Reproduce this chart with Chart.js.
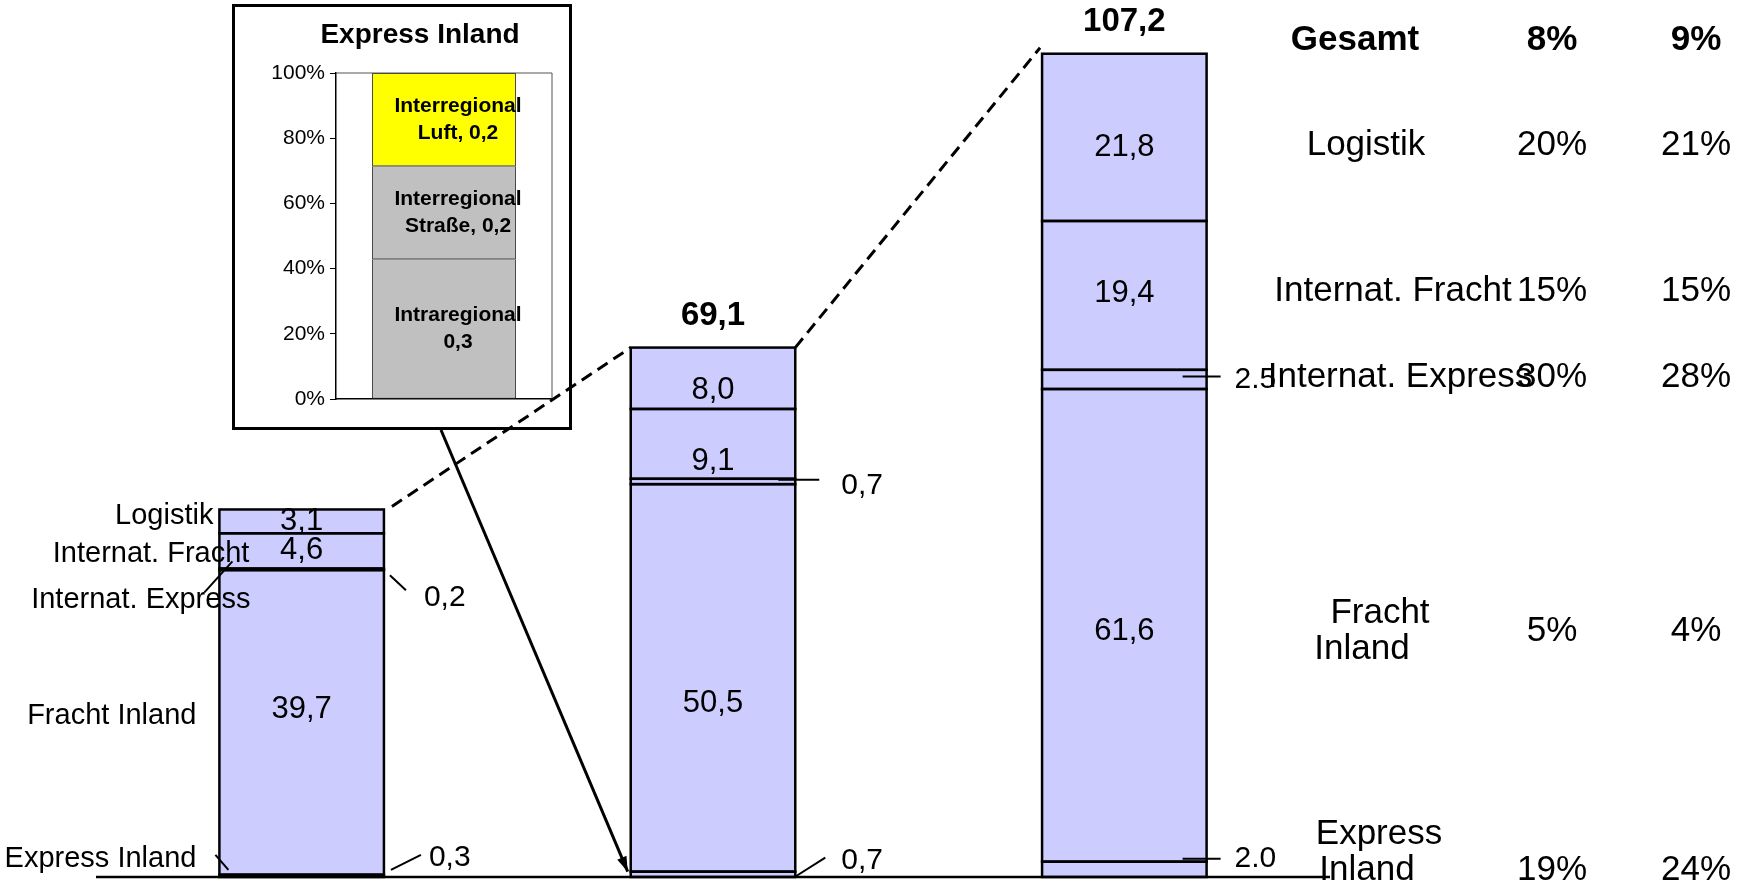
<!DOCTYPE html>
<html>
<head>
<meta charset="utf-8">
<title>Umsatz nach Segmenten</title>
<script src="https://cdn.jsdelivr.net/npm/chart.js@4.4.0/dist/chart.umd.min.js"></script>
<style>
  html, body { margin: 0; padding: 0; background: #fff; }
  #wrap { position: relative; width: 1742px; height: 882px; overflow: hidden; }
  #inset { position: absolute; left: 232px; top: 4px; width: 340px; height: 426px;
           border: 3px solid #000; box-sizing: border-box; background: #fff; z-index: 1; }
  #main { position: absolute; left: 0; top: 0; z-index: 2; }
</style>
</head>
<body>
<div id="wrap">
  <div id="inset"><canvas id="insetChart" width="334" height="420"></canvas></div>
  <canvas id="main" width="1742" height="882"></canvas>
</div>
<script>
// Daten (Segmente von unten nach oben gestapelt)
var bars = ['1', '2', '3'];
var seriesNames = ['Express Inland', 'Fracht Inland', 'Internat. Express', 'Internat. Fracht', 'Logistik'];
var expressInland = [0.3, 0.7, 2.0];
var frachtInland = [39.7, 50.5, 61.6];
var internatExpress = [0.2, 0.7, 2.5];
var internatFracht = [4.6, 9.1, 19.4];
var logistik = [3.1, 8.0, 21.8];
var totals = [null, 69.1, 107.2];

// Tabelle rechts
var tableLabels = ['Gesamt', 'Logistik', 'Internat. Fracht', 'Internat. Express', 'Fracht\nInland', 'Express\nInland'];
var growthA = ['8%', '20%', '15%', '30%', '5%', '19%'];
var growthB = ['9%', '21%', '15%', '28%', '4%', '24%'];

// Kleines Diagramm "Express Inland"
var insetTitle = 'Express Inland';
var insetNames = ['Intraregional', 'Interregional Straße', 'Interregional Luft'];
var insetValues = [0.3, 0.2, 0.2];
var insetColors = ['#c0c0c0', '#c0c0c0', '#ffff00'];

var seriesValues = [expressInland, frachtInland, internatExpress, internatFracht, logistik];
var FONT = '"Liberation Sans", Arial, sans-serif';

function fmt(v, sep) {
    return v.toFixed(1).replace('.', sep || ',');
}

function line(ctx, x1, y1, x2, y2) {
    ctx.beginPath();
    ctx.moveTo(x1, y1);
    ctx.lineTo(x2, y2);
    ctx.stroke();
}

function text(ctx, str, x, y, font, align) {
    ctx.font = font;
    ctx.textAlign = align || 'center';
    ctx.textBaseline = 'middle';
    ctx.fillStyle = '#000';
    ctx.fillText(str, x, y);
}

function arrow(ctx, x1, y1, x2, y2) {
    line(ctx, x1, y1, x2, y2);
    var a = Math.atan2(y2 - y1, x2 - x1), len = 15, half = 5;
    ctx.beginPath();
    ctx.moveTo(x2, y2);
    ctx.lineTo(x2 - len * Math.cos(a) + half * Math.sin(a), y2 - len * Math.sin(a) - half * Math.cos(a));
    ctx.lineTo(x2 - len * Math.cos(a) - half * Math.sin(a), y2 - len * Math.sin(a) + half * Math.cos(a));
    ctx.closePath();
    ctx.fill();
}

// Beschriftungen, Hilfslinien und Tabelle
var annotations = {
    id: 'annotations',
    afterDatasetsDraw: function (chart) {
        var ctx = chart.ctx;
        var area = chart.chartArea;
        function seg(ds, j) {
            var el = chart.getDatasetMeta(ds).data[j];
            return { x: el.x, top: el.y, base: el.base, left: el.x - el.width / 2, right: el.x + el.width / 2, mid: (el.y + el.base) / 2 };
        }
        ctx.save();
        ctx.strokeStyle = '#000';
        ctx.fillStyle = '#000';

        // Umrisse der Segmente
        ctx.lineWidth = 2.5;
        seriesNames.forEach(function (n, ds) {
            bars.forEach(function (b, j) {
                var s = seg(ds, j);
                ctx.strokeRect(s.left, s.top, s.right - s.left, s.base - s.top);
            });
        });

        // Grundlinie
        line(ctx, area.left, area.bottom, area.right, area.bottom);

        // Werte in den Balken (mit kleinen Verschiebungen wie im Original)
        var valueShift = { 1: [-13, 26, 6], 3: [0, 18, -2], 4: [0, 12, 10] };
        [1, 3, 4].forEach(function (ds) {
            bars.forEach(function (b, j) {
                var s = seg(ds, j);
                text(ctx, fmt(seriesValues[ds][j]), s.x, s.mid + valueShift[ds][j], '31px ' + FONT);
            });
        });

        // Summen über den Balken
        totals.forEach(function (t, j) {
            if (t === null) return;
            var s = seg(4, j);
            text(ctx, fmt(t), s.x, s.top - 32, 'bold 33px ' + FONT);
        });

        // Segmentnamen links vom ersten Balken
        var nameOffsets = [[-23, -17], [-23, -6], [31, 31], [30, 3], [-6, -5]];
        seriesNames.forEach(function (name, ds) {
            var s = seg(ds, 0);
            text(ctx, name, s.left + nameOffsets[ds][0], s.mid + nameOffsets[ds][1], '29px ' + FONT, 'right');
        });

        // Kleine Segmente mit Hinweislinien
        ctx.lineWidth = 2;
        var lf = '30px ' + FONT;
        var e1 = seg(2, 0), x1 = seg(0, 0);
        line(ctx, e1.left + 13, e1.mid - 8, e1.left - 15, e1.mid + 23);
        line(ctx, e1.right + 6, e1.mid + 6, e1.right + 22, e1.mid + 21);
        text(ctx, fmt(internatExpress[0]), e1.right + 40, e1.mid + 28, lf, 'left');
        line(ctx, x1.right + 7, x1.mid - 6, x1.right + 37, x1.mid - 21);
        line(ctx, x1.left - 4, x1.mid - 21, x1.left + 9, x1.mid - 6);
        text(ctx, fmt(expressInland[0]), x1.right + 45, x1.mid - 18, lf, 'left');

        var e2 = seg(2, 1), x2 = seg(0, 1);
        line(ctx, e2.right - 17, e2.top + 1, e2.right + 24, e2.top + 1);
        text(ctx, fmt(internatExpress[1]), e2.right + 46, e2.top + 7, lf, 'left');
        line(ctx, x2.right + 1, x2.base - 1, x2.right + 30, x2.top - 14);
        text(ctx, fmt(expressInland[1]), x2.right + 46, x2.top - 11, lf, 'left');

        var e3 = seg(2, 2), x3 = seg(0, 2);
        line(ctx, e3.right - 24, e3.mid - 3, e3.right + 14, e3.mid - 3);
        text(ctx, fmt(internatExpress[2], '.'), e3.right + 28, e3.mid, lf, 'left');
        line(ctx, x3.right - 24, x3.top - 3, x3.right + 14, x3.top - 3);
        text(ctx, fmt(expressInland[2], '.'), x3.right + 28, x3.top - 3, lf, 'left');

        // gestrichelte Verbindungen zwischen den Balken
        var t1 = seg(4, 0), t2 = seg(4, 1), t3 = seg(4, 2);
        ctx.lineWidth = 3;
        ctx.setLineDash([12, 7]);
        line(ctx, t1.right + 8, t1.top - 3, t2.left, t2.top);
        line(ctx, t2.right, t2.top, t3.left - 2, t3.top - 6);
        ctx.setLineDash([]);

        // Pfeil vom kleinen Diagramm zum Segment "Express Inland"
        var box = document.getElementById('inset');
        arrow(ctx, box.offsetLeft + 209, box.offsetTop + box.offsetHeight, x2.left - 3, x2.top);

        // Tabelle
        var labelX = [[1355], [1366], [1393], [1400], [1380, 1362], [1379, 1367]];
        var rowY = [40, 145, 291, 377, 631, 852];
        var pctY = [40, 145, 291, 377, 631, 870];
        var colX = [1552, 1696];
        tableLabels.forEach(function (lbl, r) {
            var f = (r === 0 ? 'bold ' : '') + '35px ' + FONT;
            var lines = lbl.split('\n');
            lines.forEach(function (ln, k) {
                text(ctx, ln, labelX[r][k], rowY[r] + (k - (lines.length - 1) / 2) * 36, f);
            });
            text(ctx, growthA[r], colX[0], pctY[r], f);
            text(ctx, growthB[r], colX[1], pctY[r], f);
        });
        ctx.restore();
    }
};

var mainChart = new Chart(document.getElementById('main'), {
    type: 'bar',
    data: {
        labels: bars,
        datasets: seriesNames.map(function (name, i) {
            return {
                label: name,
                data: seriesValues[i],
                backgroundColor: '#ccccff',
                borderWidth: 0,
                categoryPercentage: 1,
                barPercentage: 0.4
            };
        })
    },
    options: {
        responsive: false,
        animation: false,
        layout: { padding: { left: 96, right: 412, top: 33, bottom: 5 } },
        scales: {
            x: { display: false, stacked: true },
            y: { display: false, stacked: true, min: 0, max: 110 }
        },
        plugins: { legend: { display: false }, tooltip: { enabled: false } }
    },
    plugins: [annotations]
});

// kleines 100%-Diagramm
var insetTotal = insetValues.reduce(function (a, b) { return a + b; }, 0);

var insetLabels = {
    id: 'insetLabels',
    afterDatasetsDraw: function (chart) {
        var ctx = chart.ctx;
        var area = chart.chartArea;
        ctx.save();
        ctx.strokeStyle = '#555';
        ctx.lineWidth = 1;
        ctx.beginPath();
        ctx.moveTo(area.left, area.top);
        ctx.lineTo(area.right, area.top);
        ctx.lineTo(area.right, area.bottom);
        ctx.stroke();
        text(ctx, insetTitle, 185, 28, 'bold 28px ' + FONT);
        insetNames.forEach(function (name, i) {
            var el = chart.getDatasetMeta(i).data[0];
            var cy = (el.y + el.base) / 2;
            var sp = name.indexOf(' ');
            var lines = sp < 0 ? [name, fmt(insetValues[i])]
                               : [name.slice(0, sp), name.slice(sp + 1) + ', ' + fmt(insetValues[i])];
            lines.forEach(function (ln, k) {
                text(ctx, ln, el.x + 14, cy + (k - 0.5) * 27, 'bold 21px ' + FONT);
            });
        });
        ctx.restore();
    }
};

var insetChart = new Chart(document.getElementById('insetChart'), {
    type: 'bar',
    data: {
        labels: [insetTitle],
        datasets: insetNames.map(function (name, i) {
            return {
                label: name,
                data: [insetValues[i] / insetTotal * 100],
                backgroundColor: insetColors[i],
                borderColor: '#404040',
                borderWidth: 1,
                borderSkipped: false,
                categoryPercentage: 1,
                barPercentage: 0.667
            };
        })
    },
    options: {
        responsive: false,
        animation: false,
        layout: { padding: { left: 11, right: 17, top: 66, bottom: 28 } },
        scales: {
            x: {
                stacked: true,
                grid: { display: false },
                ticks: { display: false },
                border: { display: true, color: '#000', width: 1.5 },
                afterFit: function (s) { s.height = 0; }
            },
            y: {
                stacked: true,
                min: 0,
                max: 100,
                ticks: {
                    stepSize: 20,
                    padding: 5,
                    color: '#000',
                    font: { family: FONT, size: 21 },
                    callback: function (v) { return v + '%'; }
                },
                grid: { drawOnChartArea: false, tickLength: 6, color: '#000' },
                border: { display: true, color: '#000', width: 1.5 },
                afterFit: function (s) { s.width = 90; }
            }
        },
        plugins: { legend: { display: false }, tooltip: { enabled: false } }
    },
    plugins: [insetLabels]
});
</script>
</body>
</html>
